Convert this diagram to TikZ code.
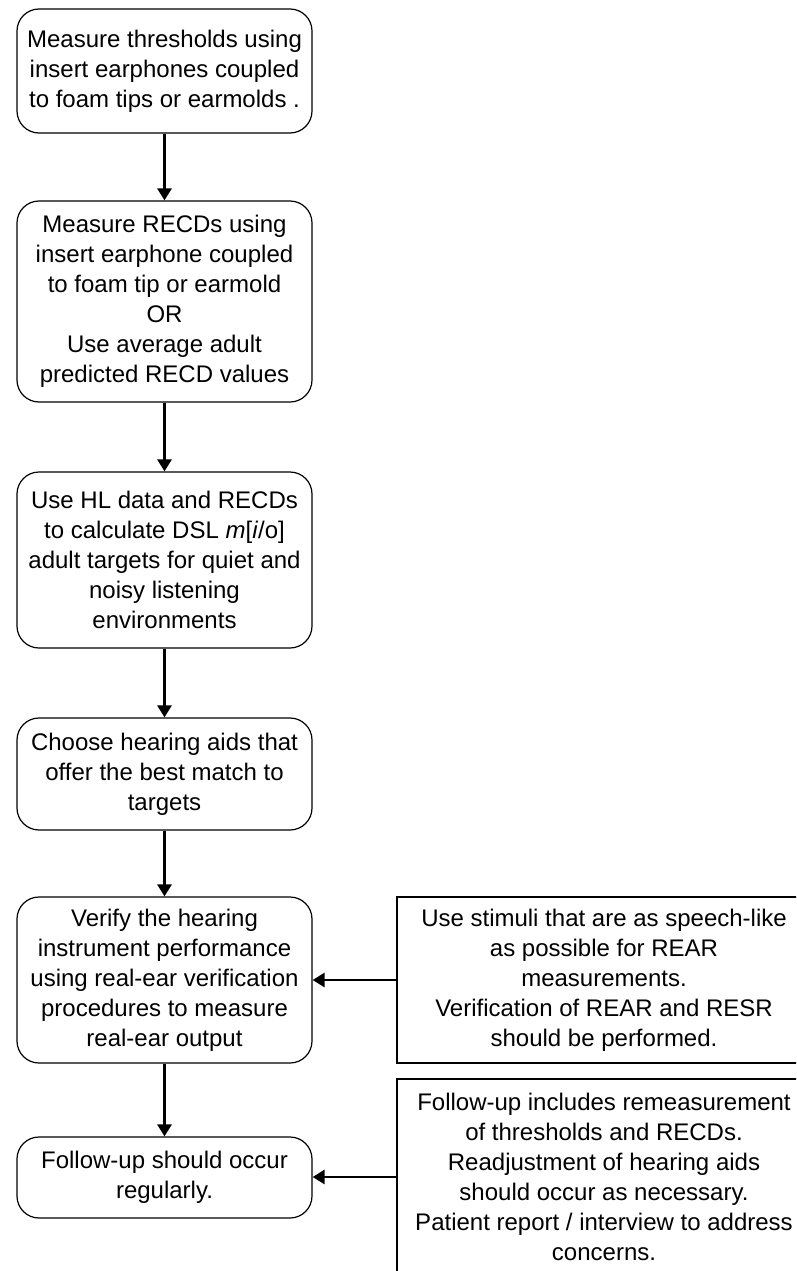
\documentclass[tikz,border=0pt]{standalone}
\usepackage{fontspec}
\setmainfont{Liberation Sans}
\usetikzlibrary{arrows.meta}
\begin{document}
\begin{tikzpicture}[x=1pt,y=-1pt,
  txt/.style={font=\fontsize{24}{30}\selectfont, align=center, inner sep=0pt},
  stepbox/.style={txt, draw, line width=1.2pt, rounded corners=22pt, minimum width=295pt},
  notebox/.style={txt, draw, line width=1.2pt, minimum width=414pt},
  flow/.style={line width=2.8pt, -{Triangle[length=12pt,width=14pt]}}]
\useasboundingbox (0,0) rectangle (796,1271);
\fill[white] (0,0) rectangle (796,1271);
\begin{scope}
\clip (0,0) rectangle (796,1271);
% main sequence of steps
\node[stepbox, minimum height=124pt] (b1) at (164.5,71)
  {Measure thresholds using\\insert earphones coupled\\to foam tips or earmolds .};
\node[stepbox, minimum height=201pt] (b2) at (164.5,301.5)
  {Measure RECDs using\\insert earphone coupled\\to foam tip or earmold\\OR\\Use average adult\\predicted RECD values};
\node[stepbox, minimum height=176pt] (b3) at (164.5,560)
  {Use HL data and RECDs\\to calculate DSL \textit{m}[\textit{i}/o]\\adult targets for quiet and\\noisy listening\\environments};
\node[stepbox, minimum height=112pt] (b4) at (164.5,774)
  {Choose hearing aids that\\offer the best match to\\targets};
\node[stepbox, minimum height=166pt] (b5) at (164.5,980)
  {Verify the hearing\\instrument performance\\using real-ear verification\\procedures to measure\\real-ear output};
\node[stepbox, minimum height=81pt] (b6) at (164.5,1177.5)
  {Follow-up should occur\\regularly.};
% side notes
\node[notebox, minimum height=166pt] (r1) at (604,980)
  {Use stimuli that are as speech-like\\as possible for REAR\\measurements.\\Verification of REAR and RESR\\should be performed.};
\node[notebox, minimum height=196pt] (r2) at (604,1177)
  {Follow-up includes remeasurement\\of thresholds and RECDs.\\Readjustment of hearing aids\\should occur as necessary.\\Patient report / interview to address\\concerns.};
% connectors
\draw[flow] (b1) -- (b2);
\draw[flow] (b2) -- (b3);
\draw[flow] (b3) -- (b4);
\draw[flow] (b4) -- (b5);
\draw[flow] (b5) -- (b6);
\draw[flow] (r1.west) -- (b5.east);
\draw[flow] (r2.west) -- (b6.east |- r2.west);
\end{scope}
\end{tikzpicture}
\end{document}
